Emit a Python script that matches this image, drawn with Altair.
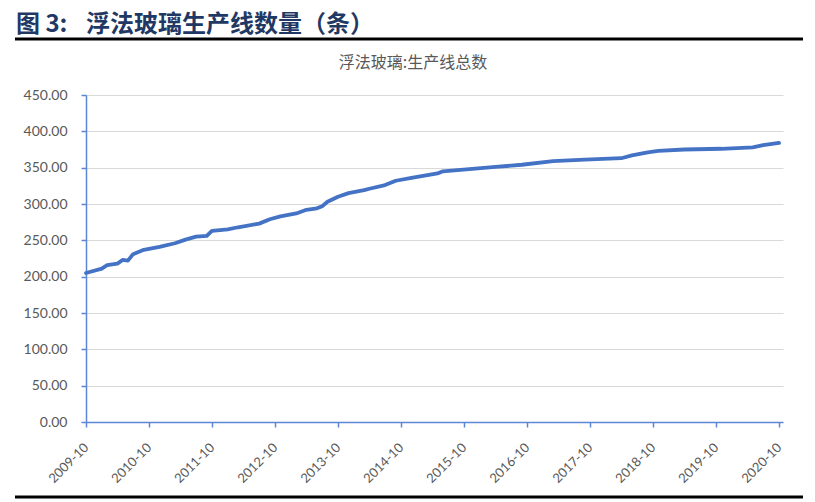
import altair as alt
import pandas as pd

# values (month, total float-glass lines)
months = [
    "2009-10", "2010-01", "2010-02", "2010-04", "2010-05", "2010-06", "2010-07",
    "2010-08", "2010-09", "2010-12", "2011-03", "2011-05", "2011-07", "2011-09",
    "2011-10", "2012-01", "2012-03", "2012-07", "2012-09", "2012-11", "2013-02",
    "2013-04", "2013-06", "2013-07", "2013-08", "2013-10", "2013-12", "2014-03",
    "2014-04", "2014-07", "2014-09", "2014-12", "2015-05", "2015-06", "2015-11",
    "2016-04", "2016-09", "2017-03", "2017-09", "2018-04", "2018-06", "2018-09",
    "2018-11", "2019-04", "2019-11", "2020-05", "2020-07", "2020-10",
]
line_totals = [
    205, 211, 216, 218, 223, 222, 231,
    234, 237, 241, 246, 251, 255, 256,
    263, 265, 268, 273, 279, 283, 287,
    292, 294, 297, 303, 310, 315, 319,
    321, 326, 332, 336, 342, 345, 348,
    351, 354, 359, 361, 363, 367, 371,
    373, 375, 376, 378, 381, 384,
]
tick_years = list(range(2009, 2021))
y_ticks = [0, 50, 100, 150, 200, 250, 300, 350, 400, 450]

header = ["图 3:", "浮法玻璃生产线数量（条）"]
chart_title = ["浮法玻璃:生产线总数"]

df = pd.DataFrame({"date": [m + "-01" for m in months], "total": line_totals})
year_ticks = [alt.DateTime(year=y, month=10, date=1, utc=True) for y in tick_years]
x_end = alt.DateTime(year=2020, month=10, date=24, utc=True)

BLUE = "#4472C4"
AXIS_BLUE = "#5B87D6"
GREY = "#595959"
NAVY = "#1F3864"

line = (
    alt.Chart(df)
    .mark_line(color=BLUE, strokeWidth=3.8, strokeCap="round", strokeJoin="round")
    .encode(
        x=alt.X(
            "date:T",
            title=None,
            scale=alt.Scale(type="utc", domain=[year_ticks[0], x_end]),
            axis=alt.Axis(
                values=year_ticks,
                labelExpr="utcFormat(datum.value, '%Y-%m')",
                labelAngle=-45,
                labelAlign="right",
                labelBaseline="middle",
                labelPadding=18,
                labelFont="Lato",
                labelFontSize=13,
                labelColor=GREY,
                domainColor=AXIS_BLUE,
                domainWidth=1.5,
                tickColor=AXIS_BLUE,
                tickSize=5,
                tickWidth=1.5,
                grid=False,
            ),
        ),
        y=alt.Y(
            "total:Q",
            title=None,
            scale=alt.Scale(domain=[0, 450], nice=False),
            axis=alt.Axis(
                values=y_ticks,
                format=".2f",
                labelFont="Lato",
                labelFontSize=14,
                labelColor=GREY,
                labelPadding=14,
                domainColor=AXIS_BLUE,
                domainWidth=1.5,
                tickColor=AXIS_BLUE,
                tickSize=5,
                tickWidth=1.5,
                gridColor="#D9D9D9",
                gridWidth=1,
            ),
        ),
    )
)

head_style = dict(
    align="left", baseline="alphabetic", font="Noto Sans CJK SC",
    fontWeight="bold", fontSize=24, color=NAVY,
)
head_num = (
    alt.Chart(pd.DataFrame({"t": header[:1]}))
    .mark_text(**head_style)
    .encode(x=alt.value(-70), y=alt.value(-63), text="t:N")
)
head_text = (
    alt.Chart(pd.DataFrame({"t": header[1:]}))
    .mark_text(**head_style)
    .encode(x=alt.value(0), y=alt.value(-63), text="t:N")
)

sub = (
    alt.Chart(pd.DataFrame({"t": chart_title}))
    .mark_text(
        align="center", baseline="middle", font="Noto Sans CJK SC",
        fontSize=16, color=GREY,
    )
    .encode(x=alt.value(327), y=alt.value(-32), text="t:N")
)

top_rule = (
    alt.Chart(pd.DataFrame({"a": [0]}))
    .mark_rule(color="black", strokeWidth=3)
    .encode(x=alt.value(-71), x2=alt.value(717), y=alt.value(-56))
)

bottom_rule = (
    alt.Chart(pd.DataFrame({"a": [0]}))
    .mark_rule(color="black", strokeWidth=3)
    .encode(x=alt.value(-71), x2=alt.value(717), y=alt.value(402))
)

chart = (
    alt.layer(line, head_num, head_text, sub, top_rule, bottom_rule)
    .properties(
        width=697,
        height=327,
        padding={"left": 78, "top": 87, "right": 24, "bottom": 77},
        autosize=alt.AutoSizeParams(type="none"),
        background="white",
    )
    .configure_view(stroke=None)
)

chart.save("out.html", embed_options={"renderer": "svg", "actions": False})
